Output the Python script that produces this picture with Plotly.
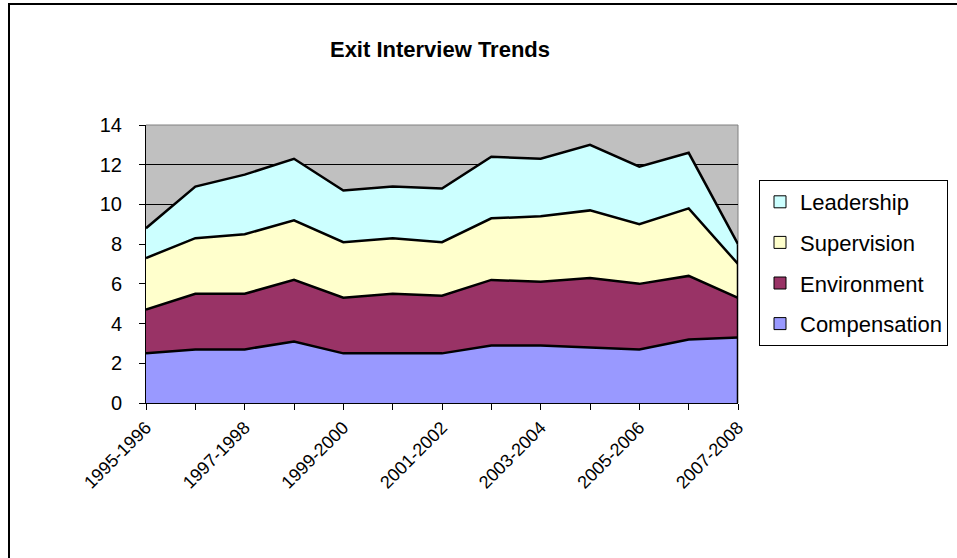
import plotly.graph_objects as go

# School-year periods on the category axis
periods = [
    "1995-1996", "1996-1997", "1997-1998", "1998-1999", "1999-2000",
    "2000-2001", "2001-2002", "2002-2003", "2003-2004", "2004-2005",
    "2005-2006", "2006-2007", "2007-2008",
]

# Exit-interview reasons per period (stacked)
compensation = [2.5, 2.7, 2.7, 3.1, 2.5, 2.5, 2.5, 2.9, 2.9, 2.8, 2.7, 3.2, 3.3]
environment = [2.2, 2.8, 2.8, 3.1, 2.8, 3.0, 2.9, 3.3, 3.2, 3.5, 3.3, 3.2, 2.0]
supervision = [2.6, 2.8, 3.0, 3.0, 2.8, 2.8, 2.7, 3.1, 3.3, 3.4, 3.0, 3.4, 1.7]
leadership = [1.5, 2.6, 3.0, 3.1, 2.6, 2.6, 2.7, 3.1, 2.9, 3.3, 2.9, 2.8, 1.0]

y_ticks = [0, 2, 4, 6, 8, 10, 12, 14]

series = [
    ("Compensation", compensation, "#9999FF"),
    ("Environment", environment, "#993366"),
    ("Supervision", supervision, "#FFFFCC"),
    ("Leadership", leadership, "#CCFFFF"),
]

FONT = "Arial, 'Liberation Sans', sans-serif"

fig = go.Figure()

for name, vals, color in series:
    fig.add_trace(go.Scatter(
        x=periods, y=vals, name=name, stackgroup="one", mode="lines",
        line=dict(color="black", width=2.5), fillcolor=color,
        showlegend=False, hoverinfo="x+y+name",
    ))

# closing edge of the stack at the last period
totals = [sum(v) for v in zip(compensation, environment, supervision, leadership)]
fig.add_trace(go.Scatter(
    x=[periods[-1], periods[-1]], y=[0, totals[-1]], mode="lines",
    line=dict(color="black", width=2.5), showlegend=False, hoverinfo="skip",
))

# legend swatches, top series first
for i, (name, vals, color) in enumerate(reversed(series)):
    fig.add_trace(go.Scatter(
        x=[None], y=[None], name=name, mode="markers", legendgroup=f"g{i}",
        marker=dict(symbol="square", size=12, color=color,
                    line=dict(color="black", width=1)),
    ))

fig.update_layout(
    width=957, height=558,
    margin=dict(l=146, r=219, t=125, b=155, autoexpand=False),
    paper_bgcolor="white", plot_bgcolor="#C0C0C0",
    font=dict(family=FONT, size=18, color="black"),
    title=dict(text="<b>Exit Interview Trends</b>", x=440 / 957, xanchor="center",
               y=1 - 49 / 558, yanchor="middle",
               font=dict(family=FONT, size=22, color="black")),
    showlegend=True,
    legend=dict(
        x=(759 - 146) / 592, y=(403 - 180) / 278, xanchor="left", yanchor="top",
        bordercolor="black", borderwidth=1, bgcolor="white",
        traceorder="grouped", tracegroupgap=9, itemwidth=30,
        font=dict(family=FONT, size=22, color="black"),
    ),
    xaxis=dict(
        type="category", range=[0, len(periods) - 1],
        tickmode="array", tickvals=periods,
        ticktext=[p if i % 2 == 0 else "" for i, p in enumerate(periods)],
        tickangle=-45, ticks="outside", ticklen=6, tickcolor="black",
        showline=True, linecolor="black", linewidth=1, showgrid=False,
        zeroline=False, tickfont=dict(size=18),
    ),
    yaxis=dict(
        range=[0, 14], tickvals=y_ticks, ticks="outside", ticklen=6,
        tickcolor="black", showline=True, linecolor="black", linewidth=1,
        showgrid=True, gridcolor="black", gridwidth=1, zeroline=False,
        tickfont=dict(size=20), ticklabelstandoff=13,
    ),
    shapes=[
        # plot-area frame (top and right)
        dict(type="line", xref="paper", yref="paper", x0=0, x1=1, y0=1, y1=1,
             line=dict(color="#808080", width=1), layer="between"),
        dict(type="line", xref="paper", yref="paper", x0=1, x1=1, y0=0, y1=1,
             line=dict(color="#808080", width=1), layer="between"),
        # chart border
        dict(type="rect", xref="paper", yref="paper",
             x0=(9 - 146) / 592, x1=(965 - 146) / 592,
             y0=(403 - 565) / 278, y1=(403 - 4) / 278,
             line=dict(color="black", width=2), fillcolor="rgba(0,0,0,0)",
             layer="above"),
    ],
)

fig.write_html("out.html")
